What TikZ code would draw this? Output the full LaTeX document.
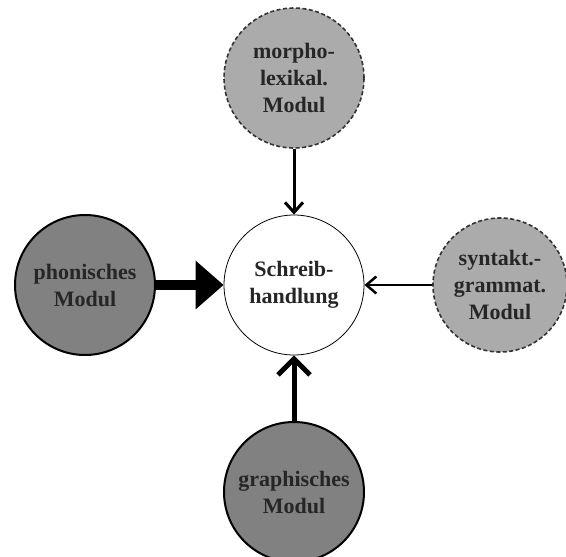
\documentclass[tikz,border=0pt]{standalone}
\usepackage{fontspec}
\setmainfont{Liberation Serif}
\usetikzlibrary{arrows.meta}
\definecolor{lightmod}{HTML}{ABABAB}
\definecolor{darkmod}{HTML}{818181}
\tikzset{
  modbase/.style={circle, minimum size=140pt, inner sep=0pt, align=center,
    font=\fontsize{22}{27}\selectfont\bfseries, text=black!85},
  lightcirc/.style={modbase, fill=lightmod, draw=black!80, dashed, dash pattern=on 4pt off 2.5pt, line width=1.6pt},
  darkcirc/.style={modbase, fill=darkmod, draw=black, line width=2pt},
  centercirc/.style={modbase, fill=white, draw=black, line width=0.8pt},
}
\begin{document}
\begin{tikzpicture}[x=1pt,y=1pt]
\useasboundingbox (0,0) rectangle (566,-557);
\node[centercirc] (c) at (294,-285) {Schreib-\\handlung};
\node[lightcirc] (top) at (294,-78) {morpho-\\lexikal.\\Modul};
\node[darkcirc] (left) at (85,-285) {phonisches\\Modul};
\node[lightcirc, minimum size=134pt] (right) at (500,-285) {syntakt.-\\grammat.\\Modul};
\node[darkcirc] (bot) at (294,-492) {graphisches\\Modul};
\draw[line width=3pt, -{Straight Barb[length=10pt,width=18pt]}] (top) -- (c);
\draw[line width=10pt, -{Triangle[length=28pt,width=47pt]}] (left) -- (c);
\draw[line width=2.5pt, -{Straight Barb[length=10pt,width=17pt]}] (right) -- (c);
\draw[line width=5pt, -{Straight Barb[length=16pt,width=32pt]}] (bot) -- (c);
\end{tikzpicture}
\end{document}
